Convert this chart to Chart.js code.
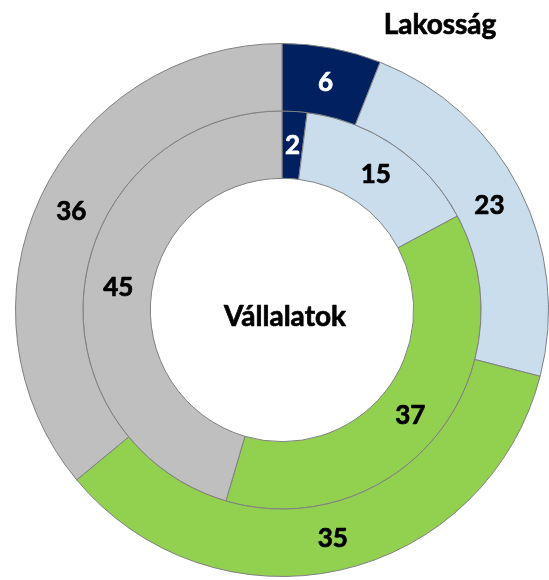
<!DOCTYPE html>
<html>
<head>
<meta charset="utf-8">
<script src="https://cdn.jsdelivr.net/npm/chart.js@4"></script>
<style>
    html, body { margin: 0; padding: 0; background: #fff; }
    #wrap { width: 549px; height: 580px; }
</style>
</head>
<body>
<div id="wrap"><canvas id="ring-chart"></canvas></div>
<script>
// Segments (same order in both rings)
const segments = ['Sötétkék', 'Világoskék', 'Zöld', 'Szürke'];
const lakossagValues = [6, 23, 35, 36];      // outer ring
const vallalatokValues = [2, 15, 37, 45];    // inner ring
const segmentColors = ['#002060', '#C9DDED', '#92D050', '#BFBFBF'];
const labelColors = ['#FFFFFF', '#000000', '#000000', '#000000'];
const outerTitle = 'Lakosság';
const innerTitle = 'Vállalatok';

const FONT = 'Lato, "Open Sans", sans-serif';

// bold text, thickened a little with a thin stroke
function heavyText(ctx, text, x, y, color) {
    ctx.fillStyle = color;
    ctx.strokeStyle = color;
    ctx.lineWidth = 0.7;
    ctx.lineJoin = 'round';
    ctx.strokeText(text, x, y);
    ctx.fillText(text, x, y);
}

// Draw value labels at the middle of each arc + the two ring titles
const ringLabels = {
    id: 'ringLabels',
    afterDatasetsDraw(chart) {
        const ctx = chart.ctx;
        ctx.save();
        ctx.textAlign = 'center';
        ctx.textBaseline = 'middle';
        ctx.font = 'bold 26px ' + FONT;
        chart.data.datasets.forEach((ds, di) => {
            const meta = chart.getDatasetMeta(di);
            meta.data.forEach((arc, i) => {
                const pos = arc.tooltipPosition();
                heavyText(ctx, String(ds.data[i]), pos.x, pos.y + 1, labelColors[i]);
            });
        });

        const arc0 = chart.getDatasetMeta(1).data[0];
        ctx.font = 'bold 28px ' + FONT;
        heavyText(ctx, innerTitle, arc0.x + 3, arc0.y + 7, '#000');
        heavyText(ctx, outerTitle, arc0.x + 158, 25, '#000');
        ctx.restore();
    }
};

new Chart(document.getElementById('ring-chart'), {
    type: 'doughnut',
    data: {
        labels: segments,
        datasets: [
            {
                label: outerTitle,
                data: lakossagValues,
                backgroundColor: segmentColors,
                borderColor: '#808080',
                borderWidth: 1
            },
            {
                label: innerTitle,
                data: vallalatokValues,
                backgroundColor: segmentColors,
                borderColor: '#808080',
                borderWidth: 1
            }
        ]
    },
    options: {
        responsive: true,
        maintainAspectRatio: false,
        animation: false,
        cutout: '49.4%',
        layout: {
            padding: { left: 15, right: 0, top: 43, bottom: 3 }
        },
        plugins: {
            legend: { display: false },
            tooltip: { enabled: false }
        }
    },
    plugins: [ringLabels]
});
</script>
</body>
</html>
